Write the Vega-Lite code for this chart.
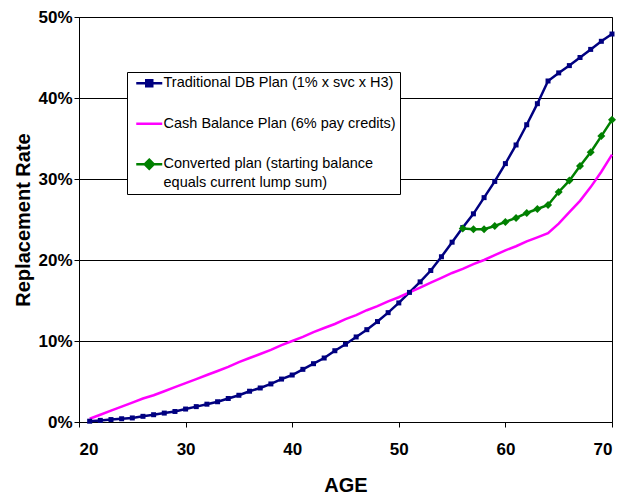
{
  "$schema": "https://vega.github.io/schema/vega-lite/v6.json",
  "width": 533,
  "height": 405,
  "autosize": "none",
  "padding": {"left": 79, "top": 17, "right": 19, "bottom": 73},
  "background": "white",
  "config": {
    "view": {"stroke": "#000000", "strokeWidth": 1},
    "font": "Liberation Sans",
    "axis": {
      "labelFont": "Liberation Sans",
      "labelFontWeight": "bold",
      "labelFontSize": 17,
      "labelColor": "#000000",
      "titleFont": "Liberation Sans",
      "titleFontWeight": "bold",
      "titleColor": "#000000",
      "domainColor": "#000000",
      "tickColor": "#000000",
      "tickSize": 5,
      "gridColor": "#000000",
      "gridWidth": 1
    }
  },
  "data": {
    "values": [
      {"age": 21, "plan": "DB", "rate": 0.1}, {"age": 22, "plan": "DB", "rate": 0.2}, {"age": 23, "plan": "DB", "rate": 0.3},
      {"age": 24, "plan": "DB", "rate": 0.4}, {"age": 25, "plan": "DB", "rate": 0.5}, {"age": 26, "plan": "DB", "rate": 0.7},
      {"age": 27, "plan": "DB", "rate": 0.9}, {"age": 28, "plan": "DB", "rate": 1.1}, {"age": 29, "plan": "DB", "rate": 1.3},
      {"age": 30, "plan": "DB", "rate": 1.6}, {"age": 31, "plan": "DB", "rate": 1.9}, {"age": 32, "plan": "DB", "rate": 2.2},
      {"age": 33, "plan": "DB", "rate": 2.5}, {"age": 34, "plan": "DB", "rate": 2.9}, {"age": 35, "plan": "DB", "rate": 3.3},
      {"age": 36, "plan": "DB", "rate": 3.8}, {"age": 37, "plan": "DB", "rate": 4.2}, {"age": 38, "plan": "DB", "rate": 4.7},
      {"age": 39, "plan": "DB", "rate": 5.3}, {"age": 40, "plan": "DB", "rate": 5.8}, {"age": 41, "plan": "DB", "rate": 6.5},
      {"age": 42, "plan": "DB", "rate": 7.2}, {"age": 43, "plan": "DB", "rate": 7.9}, {"age": 44, "plan": "DB", "rate": 8.8},
      {"age": 45, "plan": "DB", "rate": 9.6}, {"age": 46, "plan": "DB", "rate": 10.5}, {"age": 47, "plan": "DB", "rate": 11.4},
      {"age": 48, "plan": "DB", "rate": 12.4}, {"age": 49, "plan": "DB", "rate": 13.5}, {"age": 50, "plan": "DB", "rate": 14.7},
      {"age": 51, "plan": "DB", "rate": 16.0}, {"age": 52, "plan": "DB", "rate": 17.3}, {"age": 53, "plan": "DB", "rate": 18.7},
      {"age": 54, "plan": "DB", "rate": 20.4}, {"age": 55, "plan": "DB", "rate": 22.2}, {"age": 56, "plan": "DB", "rate": 24.0},
      {"age": 57, "plan": "DB", "rate": 25.7}, {"age": 58, "plan": "DB", "rate": 27.7}, {"age": 59, "plan": "DB", "rate": 29.7},
      {"age": 60, "plan": "DB", "rate": 31.9}, {"age": 61, "plan": "DB", "rate": 34.2}, {"age": 62, "plan": "DB", "rate": 36.7},
      {"age": 63, "plan": "DB", "rate": 39.3}, {"age": 64, "plan": "DB", "rate": 42.1}, {"age": 65, "plan": "DB", "rate": 43.1},
      {"age": 66, "plan": "DB", "rate": 44.0}, {"age": 67, "plan": "DB", "rate": 45.0}, {"age": 68, "plan": "DB", "rate": 46.0},
      {"age": 69, "plan": "DB", "rate": 47.0}, {"age": 70, "plan": "DB", "rate": 47.9},
      {"age": 21, "plan": "CB", "rate": 0.4}, {"age": 22, "plan": "CB", "rate": 0.9}, {"age": 23, "plan": "CB", "rate": 1.4},
      {"age": 24, "plan": "CB", "rate": 1.9}, {"age": 25, "plan": "CB", "rate": 2.4}, {"age": 26, "plan": "CB", "rate": 2.9},
      {"age": 27, "plan": "CB", "rate": 3.3}, {"age": 28, "plan": "CB", "rate": 3.8}, {"age": 29, "plan": "CB", "rate": 4.3},
      {"age": 30, "plan": "CB", "rate": 4.8}, {"age": 31, "plan": "CB", "rate": 5.3}, {"age": 32, "plan": "CB", "rate": 5.8},
      {"age": 33, "plan": "CB", "rate": 6.3}, {"age": 34, "plan": "CB", "rate": 6.8}, {"age": 35, "plan": "CB", "rate": 7.4},
      {"age": 36, "plan": "CB", "rate": 7.9}, {"age": 37, "plan": "CB", "rate": 8.4}, {"age": 38, "plan": "CB", "rate": 8.9},
      {"age": 39, "plan": "CB", "rate": 9.5}, {"age": 40, "plan": "CB", "rate": 10.0}, {"age": 41, "plan": "CB", "rate": 10.5},
      {"age": 42, "plan": "CB", "rate": 11.1}, {"age": 43, "plan": "CB", "rate": 11.6}, {"age": 44, "plan": "CB", "rate": 12.1},
      {"age": 45, "plan": "CB", "rate": 12.7}, {"age": 46, "plan": "CB", "rate": 13.2}, {"age": 47, "plan": "CB", "rate": 13.8},
      {"age": 48, "plan": "CB", "rate": 14.3}, {"age": 49, "plan": "CB", "rate": 14.9}, {"age": 50, "plan": "CB", "rate": 15.4},
      {"age": 51, "plan": "CB", "rate": 16.0}, {"age": 52, "plan": "CB", "rate": 16.6}, {"age": 53, "plan": "CB", "rate": 17.2},
      {"age": 54, "plan": "CB", "rate": 17.8}, {"age": 55, "plan": "CB", "rate": 18.4}, {"age": 56, "plan": "CB", "rate": 18.9},
      {"age": 57, "plan": "CB", "rate": 19.5}, {"age": 58, "plan": "CB", "rate": 20.0}, {"age": 59, "plan": "CB", "rate": 20.6},
      {"age": 60, "plan": "CB", "rate": 21.2}, {"age": 61, "plan": "CB", "rate": 21.7}, {"age": 62, "plan": "CB", "rate": 22.3},
      {"age": 63, "plan": "CB", "rate": 22.8}, {"age": 64, "plan": "CB", "rate": 23.3}, {"age": 65, "plan": "CB", "rate": 24.5},
      {"age": 66, "plan": "CB", "rate": 25.9}, {"age": 67, "plan": "CB", "rate": 27.3}, {"age": 68, "plan": "CB", "rate": 29.0},
      {"age": 69, "plan": "CB", "rate": 30.9}, {"age": 70, "plan": "CB", "rate": 33.0},
      {"age": 56, "plan": "CV", "rate": 23.9}, {"age": 57, "plan": "CV", "rate": 23.8}, {"age": 58, "plan": "CV", "rate": 23.8},
      {"age": 59, "plan": "CV", "rate": 24.2}, {"age": 60, "plan": "CV", "rate": 24.7}, {"age": 61, "plan": "CV", "rate": 25.2},
      {"age": 62, "plan": "CV", "rate": 25.8}, {"age": 63, "plan": "CV", "rate": 26.3}, {"age": 64, "plan": "CV", "rate": 26.8},
      {"age": 65, "plan": "CV", "rate": 28.4}, {"age": 66, "plan": "CV", "rate": 29.8}, {"age": 67, "plan": "CV", "rate": 31.6},
      {"age": 68, "plan": "CV", "rate": 33.3}, {"age": 69, "plan": "CV", "rate": 35.3}, {"age": 70, "plan": "CV", "rate": 37.3}
    ]
  },
  "encoding": {
    "x": {
      "field": "age", "type": "quantitative",
      "scale": {"domain": [20, 70], "nice": false, "zero": false},
      "axis": {"title": "AGE", "values": [20, 30, 40, 50, 60, 70], "grid": false, "labelPadding": 14, "titleFontSize": 20, "titlePadding": 18}
    },
    "y": {
      "field": "rate", "type": "quantitative",
      "scale": {"domain": [0, 50], "nice": false},
      "axis": {"title": "Replacement Rate", "values": [0, 10, 20, 30, 40, 50], "grid": true, "labelExpr": "datum.value + '%'", "labelPadding": 2, "titleFontSize": 20, "titlePadding": 4}
    },
    "color": {
      "field": "plan", "type": "nominal",
      "scale": {"domain": ["DB", "CB", "CV"], "range": ["#000080", "#FF00FF", "#008000"]}
    }
  },
  "layer": [
    {
      "mark": {"type": "line", "strokeWidth": 2.5},
      "encoding": {
        "color": {
          "field": "plan", "type": "nominal",
          "scale": {"domain": ["DB", "CB", "CV"], "range": ["#000080", "#FF00FF", "#008000"]},
          "legend": {
            "orient": "none", "legendX": 48, "legendY": 55,
            "title": null,
            "fillColor": "#FFFFFF", "strokeColor": "#000000",
            "padding": 4,
            "symbolSize": 100,
            "symbolStrokeWidth": 2.5,
            "labelFont": "Liberation Sans",
            "labelFontSize": 14.5,
            "labelColor": "#000000",
            "labelLimit": 400,
            "labelOffset": 18,
            "rowPadding": 23.5,
            "labelExpr": "datum.value == 'DB' ? 'Traditional DB Plan (1% x svc x H3)' : datum.value == 'CB' ? 'Cash Balance Plan (6% pay credits)' : ['Converted plan (starting balance', 'equals current lump sum)']",
            "encode": {
              "labels": {"update": {"lineHeight": {"value": 19}}},
              "symbols": {
                "update": {
                  "shape": {"signal": "datum.value == 'DB' ? 'M-0.4,0H4.8M1.6,-0.6H2.8V0.6H1.6Z' : datum.value == 'CB' ? 'M-0.4,0H4.8' : 'M-0.4,0H4.8M2.2,-0.9L3.1,0L2.2,0.9L1.3,0Z'"},
                  "fill": {"signal": "datum.value == 'DB' ? '#000080' : datum.value == 'CB' ? '#FF00FF' : '#008000'"},
                  "stroke": {"signal": "datum.value == 'DB' ? '#000080' : datum.value == 'CB' ? '#FF00FF' : '#008000'"},
                  "strokeWidth": {"value": 2.5},
                  "opacity": {"value": 1}
                }
              }
            }
          }
        }
      }
    },
    {
      "transform": [{"filter": "datum.plan == 'DB'"}],
      "mark": {"type": "point", "shape": "square", "filled": true, "size": 25, "opacity": 1}
    },
    {
      "transform": [{"filter": "datum.plan == 'CV'"}],
      "mark": {"type": "point", "shape": "diamond", "filled": true, "size": 64, "opacity": 1}
    }
  ]
}
